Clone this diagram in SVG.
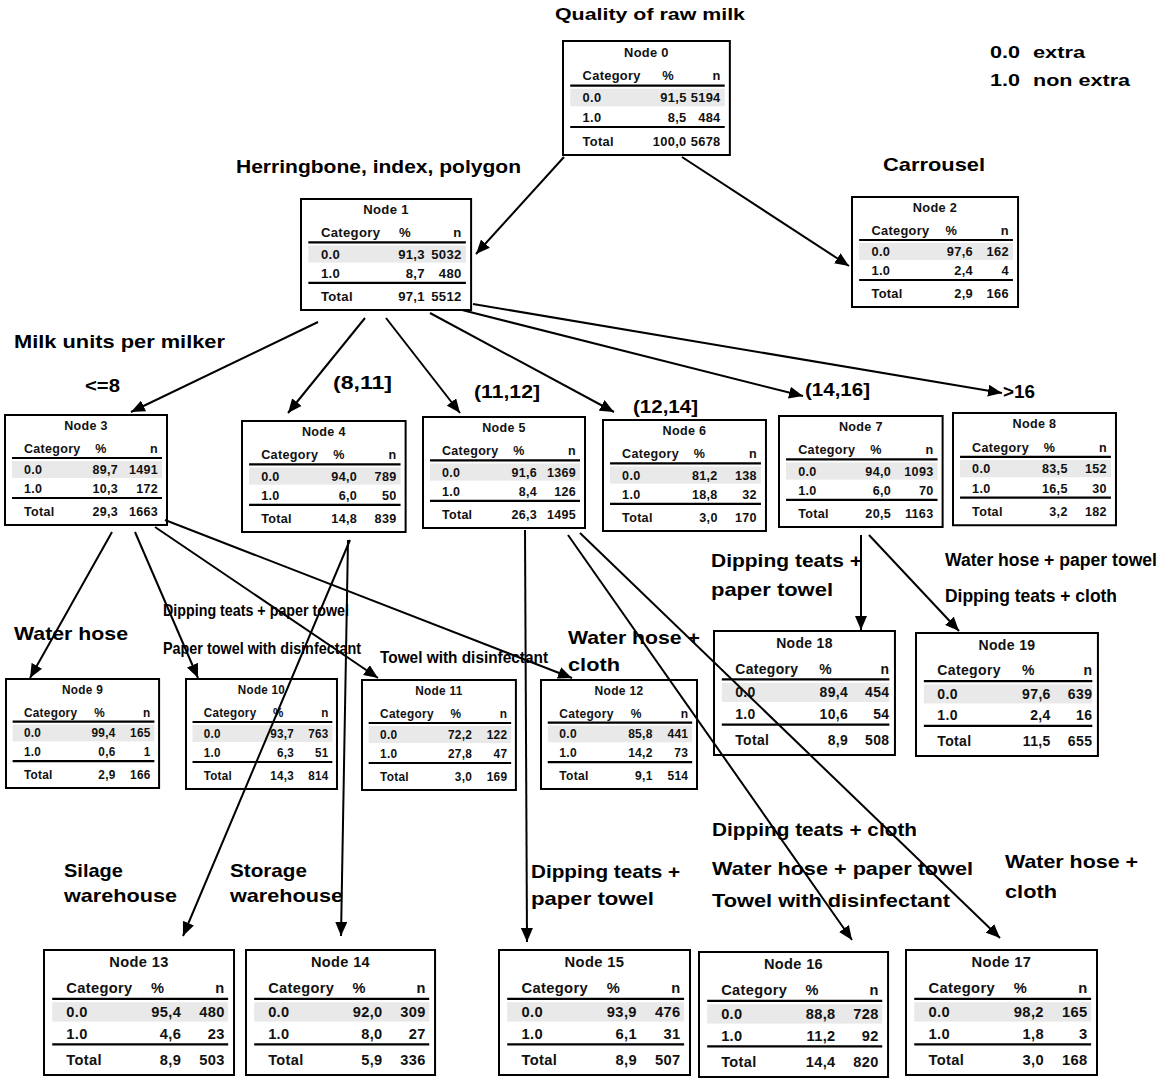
<svg xmlns="http://www.w3.org/2000/svg" xmlns:xlink="http://www.w3.org/1999/xlink" width="1165" height="1081" viewBox="0 0 1165 1081">
<style>
.lbl{font-family:"Liberation Sans",Arial,sans-serif;font-weight:bold;font-size:19px;fill:#000}
.lg{font-family:"Liberation Sans",Arial,sans-serif;font-weight:bold;font-size:16px;fill:#000}
.nt{font-family:"Liberation Sans",Arial,sans-serif;font-weight:bold;font-size:12.5px;fill:#111;letter-spacing:0.3px}
.m{text-anchor:middle}
.e{text-anchor:end}
.bx{fill:#fff;stroke:#000;stroke-width:2}
.rl{stroke:#000;stroke-width:2.2}
.band{fill:#e9e9e9}
.cn line{stroke:#000;stroke-width:2;fill:none;marker-end:url(#ah)}
</style>
<defs>
<marker id="ah" markerUnits="userSpaceOnUse" viewBox="0 0 14 12" refX="14" refY="6" markerWidth="14" markerHeight="12" orient="auto">
<path d="M0,0 L14,6 L0,12 z" fill="#000"/>
</marker>
<g id="frame">
<rect class="bx" x="0" y="0" width="162" height="110" vector-effect="non-scaling-stroke"/>
<rect class="band" x="7" y="46" width="150" height="17"/>
<line class="rl" x1="7" y1="43" x2="157" y2="43" vector-effect="non-scaling-stroke"/>
<line class="rl" x1="7" y1="83" x2="157" y2="83" vector-effect="non-scaling-stroke"/>
</g>
</defs>
<rect width="1165" height="1081" fill="#fff"/>

<g id="labels">
<text class="lbl" x="555" y="20" style="font-size:17px" textLength="190" lengthAdjust="spacingAndGlyphs">Quality of raw milk</text>
<text class="lg" x="990" y="58" textLength="30" lengthAdjust="spacingAndGlyphs">0.0</text>
<text class="lg" x="1033" y="58" textLength="52" lengthAdjust="spacingAndGlyphs">extra</text>
<text class="lg" x="990" y="86" textLength="30" lengthAdjust="spacingAndGlyphs">1.0</text>
<text class="lg" x="1033" y="86" textLength="97" lengthAdjust="spacingAndGlyphs">non extra</text>
<text class="lbl" x="236" y="173" textLength="285" lengthAdjust="spacingAndGlyphs">Herringbone, index, polygon</text>
<text class="lbl" x="883" y="171" textLength="102" lengthAdjust="spacingAndGlyphs">Carrousel</text>
<text class="lbl" x="14" y="348" textLength="211" lengthAdjust="spacingAndGlyphs">Milk units per milker</text>
<text class="lbl" x="85" y="392" textLength="35" lengthAdjust="spacingAndGlyphs">&lt;=8</text>
<text class="lbl" x="333" y="389" textLength="59" lengthAdjust="spacingAndGlyphs">(8,11]</text>
<text class="lbl" x="474" y="398" textLength="66" lengthAdjust="spacingAndGlyphs">(11,12]</text>
<text class="lbl" x="633" y="413" textLength="65" lengthAdjust="spacingAndGlyphs">(12,14]</text>
<text class="lbl" x="805" y="396" textLength="65" lengthAdjust="spacingAndGlyphs">(14,16]</text>
<text class="lbl" x="1003" y="398" textLength="32" lengthAdjust="spacingAndGlyphs">&gt;16</text>
<text class="lbl" x="14" y="640" textLength="114" lengthAdjust="spacingAndGlyphs">Water hose</text>
<text class="lbl" x="163" y="616" style="font-size:17px" textLength="186" lengthAdjust="spacingAndGlyphs">Dipping teats + paper towel</text>
<text class="lbl" x="163" y="654" style="font-size:17px" textLength="198" lengthAdjust="spacingAndGlyphs">Paper towel with disinfectant</text>
<text class="lbl" x="380" y="663" style="font-size:17px" textLength="168" lengthAdjust="spacingAndGlyphs">Towel with disinfectant</text>
<text class="lbl" x="568" y="644" textLength="132" lengthAdjust="spacingAndGlyphs">Water hose +</text>
<text class="lbl" x="568" y="671" textLength="52" lengthAdjust="spacingAndGlyphs">cloth</text>
<text class="lbl" x="711" y="567" textLength="151" lengthAdjust="spacingAndGlyphs">Dipping teats +</text>
<text class="lbl" x="711" y="596" textLength="122" lengthAdjust="spacingAndGlyphs">paper towel</text>
<text class="lbl" x="945" y="566" style="font-size:17.5px" textLength="212" lengthAdjust="spacingAndGlyphs">Water hose + paper towel</text>
<text class="lbl" x="945" y="602" textLength="172" lengthAdjust="spacingAndGlyphs">Dipping teats + cloth</text>
<text class="lbl" x="64" y="877" textLength="59" lengthAdjust="spacingAndGlyphs">Silage</text>
<text class="lbl" x="64" y="902" textLength="113" lengthAdjust="spacingAndGlyphs">warehouse</text>
<text class="lbl" x="230" y="877" textLength="77" lengthAdjust="spacingAndGlyphs">Storage</text>
<text class="lbl" x="230" y="902" textLength="113" lengthAdjust="spacingAndGlyphs">warehouse</text>
<text class="lbl" x="531" y="878" textLength="149" lengthAdjust="spacingAndGlyphs">Dipping teats +</text>
<text class="lbl" x="531" y="905" textLength="123" lengthAdjust="spacingAndGlyphs">paper towel</text>
<text class="lbl" x="712" y="836" textLength="205" lengthAdjust="spacingAndGlyphs">Dipping teats + cloth</text>
<text class="lbl" x="712" y="875" textLength="261" lengthAdjust="spacingAndGlyphs">Water hose + paper towel</text>
<text class="lbl" x="712" y="907" textLength="238" lengthAdjust="spacingAndGlyphs">Towel with disinfectant</text>
<text class="lbl" x="1005" y="868" textLength="133" lengthAdjust="spacingAndGlyphs">Water hose +</text>
<text class="lbl" x="1005" y="898" textLength="52" lengthAdjust="spacingAndGlyphs">cloth</text>
</g>

<g id="node0" transform="translate(563,41) scale(1.03,1.036)">
<use xlink:href="#frame" href="#frame"/>
<text class="nt m" x="81" y="15">Node 0</text>
<text class="nt" x="19" y="38">Category</text><text class="nt m" x="102" y="38">%</text><text class="nt e" x="153" y="38">n</text>
<text class="nt" x="19" y="59">0.0</text><text class="nt e" x="120" y="59">91,5</text><text class="nt e" x="153" y="59">5194</text>
<text class="nt" x="19" y="78">1.0</text><text class="nt e" x="120" y="78">8,5</text><text class="nt e" x="153" y="78">484</text>
<text class="nt" x="19" y="101">Total</text><text class="nt e" x="120" y="101">100,0</text><text class="nt e" x="153" y="101">5678</text>
</g>
<g id="node1" transform="translate(301,199) scale(1.05,1.01)">
<use xlink:href="#frame" href="#frame"/>
<text class="nt m" x="81" y="15">Node 1</text>
<text class="nt" x="19" y="38">Category</text><text class="nt m" x="99" y="38">%</text><text class="nt e" x="153" y="38">n</text>
<text class="nt" x="19" y="59">0.0</text><text class="nt e" x="118" y="59">91,3</text><text class="nt e" x="153" y="59">5032</text>
<text class="nt" x="19" y="78">1.0</text><text class="nt e" x="118" y="78">8,7</text><text class="nt e" x="153" y="78">480</text>
<text class="nt" x="19" y="101">Total</text><text class="nt e" x="118" y="101">97,1</text><text class="nt e" x="153" y="101">5512</text>
</g>
<g id="node2" transform="translate(852,197) scale(1.025,1)">
<use xlink:href="#frame" href="#frame"/>
<text class="nt m" x="81" y="15">Node 2</text>
<text class="nt" x="19" y="38">Category</text><text class="nt m" x="97" y="38">%</text><text class="nt e" x="153" y="38">n</text>
<text class="nt" x="19" y="59">0.0</text><text class="nt e" x="118" y="59">97,6</text><text class="nt e" x="153" y="59">162</text>
<text class="nt" x="19" y="78">1.0</text><text class="nt e" x="118" y="78">2,4</text><text class="nt e" x="153" y="78">4</text>
<text class="nt" x="19" y="101">Total</text><text class="nt e" x="118" y="101">2,9</text><text class="nt e" x="153" y="101">166</text>
</g>
<g id="node3" transform="translate(5,415)">
<use xlink:href="#frame" href="#frame"/>
<text class="nt m" x="81" y="15">Node 3</text>
<text class="nt" x="19" y="38">Category</text><text class="nt m" x="96" y="38">%</text><text class="nt e" x="153" y="38">n</text>
<text class="nt" x="19" y="59">0.0</text><text class="nt e" x="113" y="59">89,7</text><text class="nt e" x="153" y="59">1491</text>
<text class="nt" x="19" y="78">1.0</text><text class="nt e" x="113" y="78">10,3</text><text class="nt e" x="153" y="78">172</text>
<text class="nt" x="19" y="101">Total</text><text class="nt e" x="113" y="101">29,3</text><text class="nt e" x="153" y="101">1663</text>
</g>
<g id="node4" transform="translate(242,421) scale(1.01,1.01)">
<use xlink:href="#frame" href="#frame"/>
<text class="nt m" x="81" y="15">Node 4</text>
<text class="nt" x="19" y="38">Category</text><text class="nt m" x="96" y="38">%</text><text class="nt e" x="153" y="38">n</text>
<text class="nt" x="19" y="59">0.0</text><text class="nt e" x="114" y="59">94,0</text><text class="nt e" x="153" y="59">789</text>
<text class="nt" x="19" y="78">1.0</text><text class="nt e" x="114" y="78">6,0</text><text class="nt e" x="153" y="78">50</text>
<text class="nt" x="19" y="101">Total</text><text class="nt e" x="114" y="101">14,8</text><text class="nt e" x="153" y="101">839</text>
</g>
<g id="node5" transform="translate(423,417) scale(1,1.01)">
<use xlink:href="#frame" href="#frame"/>
<text class="nt m" x="81" y="15">Node 5</text>
<text class="nt" x="19" y="38">Category</text><text class="nt m" x="96" y="38">%</text><text class="nt e" x="153" y="38">n</text>
<text class="nt" x="19" y="59">0.0</text><text class="nt e" x="114" y="59">91,6</text><text class="nt e" x="153" y="59">1369</text>
<text class="nt" x="19" y="78">1.0</text><text class="nt e" x="114" y="78">8,4</text><text class="nt e" x="153" y="78">126</text>
<text class="nt" x="19" y="101">Total</text><text class="nt e" x="114" y="101">26,3</text><text class="nt e" x="153" y="101">1495</text>
</g>
<g id="node6" transform="translate(603,420) scale(1.006,1.01)">
<use xlink:href="#frame" href="#frame"/>
<text class="nt m" x="81" y="15">Node 6</text>
<text class="nt" x="19" y="38">Category</text><text class="nt m" x="96" y="38">%</text><text class="nt e" x="153" y="38">n</text>
<text class="nt" x="19" y="59">0.0</text><text class="nt e" x="114" y="59">81,2</text><text class="nt e" x="153" y="59">138</text>
<text class="nt" x="19" y="78">1.0</text><text class="nt e" x="114" y="78">18,8</text><text class="nt e" x="153" y="78">32</text>
<text class="nt" x="19" y="101">Total</text><text class="nt e" x="114" y="101">3,0</text><text class="nt e" x="153" y="101">170</text>
</g>
<g id="node7" transform="translate(779,416) scale(1.01,1.01)">
<use xlink:href="#frame" href="#frame"/>
<text class="nt m" x="81" y="15">Node 7</text>
<text class="nt" x="19" y="38">Category</text><text class="nt m" x="96" y="38">%</text><text class="nt e" x="153" y="38">n</text>
<text class="nt" x="19" y="59">0.0</text><text class="nt e" x="111" y="59">94,0</text><text class="nt e" x="153" y="59">1093</text>
<text class="nt" x="19" y="78">1.0</text><text class="nt e" x="111" y="78">6,0</text><text class="nt e" x="153" y="78">70</text>
<text class="nt" x="19" y="101">Total</text><text class="nt e" x="111" y="101">20,5</text><text class="nt e" x="153" y="101">1163</text>
</g>
<g id="node8" transform="translate(953,413) scale(1.006,1.02)">
<use xlink:href="#frame" href="#frame"/>
<text class="nt m" x="81" y="15">Node 8</text>
<text class="nt" x="19" y="38">Category</text><text class="nt m" x="96" y="38">%</text><text class="nt e" x="153" y="38">n</text>
<text class="nt" x="19" y="59">0.0</text><text class="nt e" x="114" y="59">83,5</text><text class="nt e" x="153" y="59">152</text>
<text class="nt" x="19" y="78">1.0</text><text class="nt e" x="114" y="78">16,5</text><text class="nt e" x="153" y="78">30</text>
<text class="nt" x="19" y="101">Total</text><text class="nt e" x="114" y="101">3,2</text><text class="nt e" x="153" y="101">182</text>
</g>
<g id="node9" transform="translate(6,679) scale(0.945,0.99)">
<use xlink:href="#frame" href="#frame"/>
<text class="nt m" x="81" y="15">Node 9</text>
<text class="nt" x="19" y="38">Category</text><text class="nt m" x="99" y="38">%</text><text class="nt e" x="153" y="38">n</text>
<text class="nt" x="19" y="59">0.0</text><text class="nt e" x="116" y="59">99,4</text><text class="nt e" x="153" y="59">165</text>
<text class="nt" x="19" y="78">1.0</text><text class="nt e" x="116" y="78">0,6</text><text class="nt e" x="153" y="78">1</text>
<text class="nt" x="19" y="101">Total</text><text class="nt e" x="116" y="101">2,9</text><text class="nt e" x="153" y="101">166</text>
</g>
<g id="node10" transform="translate(186,679) scale(0.932,1)">
<use xlink:href="#frame" href="#frame"/>
<text class="nt m" x="81" y="15">Node 10</text>
<text class="nt" x="19" y="38">Category</text><text class="nt m" x="99" y="38">%</text><text class="nt e" x="153" y="38">n</text>
<text class="nt" x="19" y="59">0.0</text><text class="nt e" x="116" y="59">93,7</text><text class="nt e" x="153" y="59">763</text>
<text class="nt" x="19" y="78">1.0</text><text class="nt e" x="116" y="78">6,3</text><text class="nt e" x="153" y="78">51</text>
<text class="nt" x="19" y="101">Total</text><text class="nt e" x="116" y="101">14,3</text><text class="nt e" x="153" y="101">814</text>
</g>
<g id="node11" transform="translate(362,680) scale(0.95,1)">
<use xlink:href="#frame" href="#frame"/>
<text class="nt m" x="81" y="15">Node 11</text>
<text class="nt" x="19" y="38">Category</text><text class="nt m" x="99" y="38">%</text><text class="nt e" x="153" y="38">n</text>
<text class="nt" x="19" y="59">0.0</text><text class="nt e" x="116" y="59">72,2</text><text class="nt e" x="153" y="59">122</text>
<text class="nt" x="19" y="78">1.0</text><text class="nt e" x="116" y="78">27,8</text><text class="nt e" x="153" y="78">47</text>
<text class="nt" x="19" y="101">Total</text><text class="nt e" x="116" y="101">3,0</text><text class="nt e" x="153" y="101">169</text>
</g>
<g id="node12" transform="translate(541,680) scale(0.963,0.99)">
<use xlink:href="#frame" href="#frame"/>
<text class="nt m" x="81" y="15">Node 12</text>
<text class="nt" x="19" y="38">Category</text><text class="nt m" x="99" y="38">%</text><text class="nt e" x="153" y="38">n</text>
<text class="nt" x="19" y="59">0.0</text><text class="nt e" x="116" y="59">85,8</text><text class="nt e" x="153" y="59">441</text>
<text class="nt" x="19" y="78">1.0</text><text class="nt e" x="116" y="78">14,2</text><text class="nt e" x="153" y="78">73</text>
<text class="nt" x="19" y="101">Total</text><text class="nt e" x="116" y="101">9,1</text><text class="nt e" x="153" y="101">514</text>
</g>
<g id="node18" transform="translate(714,631) scale(1.117,1.127)">
<use xlink:href="#frame" href="#frame"/>
<text class="nt m" x="81" y="15">Node 18</text>
<text class="nt" x="19" y="38">Category</text><text class="nt m" x="100" y="38">%</text><text class="nt e" x="157" y="38">n</text>
<text class="nt" x="19" y="59">0.0</text><text class="nt e" x="120" y="59">89,4</text><text class="nt e" x="157" y="59">454</text>
<text class="nt" x="19" y="78">1.0</text><text class="nt e" x="120" y="78">10,6</text><text class="nt e" x="157" y="78">54</text>
<text class="nt" x="19" y="101">Total</text><text class="nt e" x="120" y="101">8,9</text><text class="nt e" x="157" y="101">508</text>
</g>
<g id="node19" transform="translate(916,633) scale(1.123,1.118)">
<use xlink:href="#frame" href="#frame"/>
<text class="nt m" x="81" y="15">Node 19</text>
<text class="nt" x="19" y="38">Category</text><text class="nt m" x="100" y="38">%</text><text class="nt e" x="157" y="38">n</text>
<text class="nt" x="19" y="59">0.0</text><text class="nt e" x="120" y="59">97,6</text><text class="nt e" x="157" y="59">639</text>
<text class="nt" x="19" y="78">1.0</text><text class="nt e" x="120" y="78">2,4</text><text class="nt e" x="157" y="78">16</text>
<text class="nt" x="19" y="101">Total</text><text class="nt e" x="120" y="101">11,5</text><text class="nt e" x="157" y="101">655</text>
</g>
<g id="node13" transform="translate(44,950) scale(1.173,1.136)">
<use xlink:href="#frame" href="#frame"/>
<text class="nt m" x="81" y="15">Node 13</text>
<text class="nt" x="19" y="38">Category</text><text class="nt m" x="97" y="38">%</text><text class="nt e" x="154" y="38">n</text>
<text class="nt" x="19" y="59">0.0</text><text class="nt e" x="117" y="59">95,4</text><text class="nt e" x="154" y="59">480</text>
<text class="nt" x="19" y="78">1.0</text><text class="nt e" x="117" y="78">4,6</text><text class="nt e" x="154" y="78">23</text>
<text class="nt" x="19" y="101">Total</text><text class="nt e" x="117" y="101">8,9</text><text class="nt e" x="154" y="101">503</text>
</g>
<g id="node14" transform="translate(246,950) scale(1.167,1.136)">
<use xlink:href="#frame" href="#frame"/>
<text class="nt m" x="81" y="15">Node 14</text>
<text class="nt" x="19" y="38">Category</text><text class="nt m" x="97" y="38">%</text><text class="nt e" x="154" y="38">n</text>
<text class="nt" x="19" y="59">0.0</text><text class="nt e" x="117" y="59">92,0</text><text class="nt e" x="154" y="59">309</text>
<text class="nt" x="19" y="78">1.0</text><text class="nt e" x="117" y="78">8,0</text><text class="nt e" x="154" y="78">27</text>
<text class="nt" x="19" y="101">Total</text><text class="nt e" x="117" y="101">5,9</text><text class="nt e" x="154" y="101">336</text>
</g>
<g id="node15" transform="translate(499,950) scale(1.179,1.136)">
<use xlink:href="#frame" href="#frame"/>
<text class="nt m" x="81" y="15">Node 15</text>
<text class="nt" x="19" y="38">Category</text><text class="nt m" x="97" y="38">%</text><text class="nt e" x="154" y="38">n</text>
<text class="nt" x="19" y="59">0.0</text><text class="nt e" x="117" y="59">93,9</text><text class="nt e" x="154" y="59">476</text>
<text class="nt" x="19" y="78">1.0</text><text class="nt e" x="117" y="78">6,1</text><text class="nt e" x="154" y="78">31</text>
<text class="nt" x="19" y="101">Total</text><text class="nt e" x="117" y="101">8,9</text><text class="nt e" x="154" y="101">507</text>
</g>
<g id="node16" transform="translate(699,952) scale(1.167,1.136)">
<use xlink:href="#frame" href="#frame"/>
<text class="nt m" x="81" y="15">Node 16</text>
<text class="nt" x="19" y="38">Category</text><text class="nt m" x="97" y="38">%</text><text class="nt e" x="154" y="38">n</text>
<text class="nt" x="19" y="59">0.0</text><text class="nt e" x="117" y="59">88,8</text><text class="nt e" x="154" y="59">728</text>
<text class="nt" x="19" y="78">1.0</text><text class="nt e" x="117" y="78">11,2</text><text class="nt e" x="154" y="78">92</text>
<text class="nt" x="19" y="101">Total</text><text class="nt e" x="117" y="101">14,4</text><text class="nt e" x="154" y="101">820</text>
</g>
<g id="node17" transform="translate(906,950) scale(1.179,1.136)">
<use xlink:href="#frame" href="#frame"/>
<text class="nt m" x="81" y="15">Node 17</text>
<text class="nt" x="19" y="38">Category</text><text class="nt m" x="97" y="38">%</text><text class="nt e" x="154" y="38">n</text>
<text class="nt" x="19" y="59">0.0</text><text class="nt e" x="117" y="59">98,2</text><text class="nt e" x="154" y="59">165</text>
<text class="nt" x="19" y="78">1.0</text><text class="nt e" x="117" y="78">1,8</text><text class="nt e" x="154" y="78">3</text>
<text class="nt" x="19" y="101">Total</text><text class="nt e" x="117" y="101">3,0</text><text class="nt e" x="154" y="101">168</text>
</g>

<g id="connectors" class="cn">
<line x1="564" y1="157" x2="476" y2="254"/>
<line x1="682" y1="157" x2="849" y2="266"/>
<line x1="318" y1="322" x2="131" y2="412"/>
<line x1="365" y1="318" x2="288" y2="413"/>
<line x1="386" y1="318" x2="460" y2="413"/>
<line x1="430" y1="313" x2="614" y2="412"/>
<line x1="462" y1="310" x2="803" y2="396"/>
<line x1="473" y1="304" x2="1002" y2="393"/>
<line x1="112" y1="532" x2="30" y2="678"/>
<line x1="135" y1="532" x2="198" y2="678"/>
<line x1="155" y1="527" x2="378" y2="678"/>
<line x1="165" y1="520" x2="572" y2="678"/>
<line x1="350" y1="540" x2="183" y2="936"/>
<line x1="348" y1="540" x2="341" y2="936"/>
<line x1="525" y1="530" x2="527" y2="942"/>
<line x1="568" y1="535" x2="852" y2="940"/>
<line x1="580" y1="533" x2="1000" y2="938"/>
<line x1="861" y1="535" x2="861" y2="630"/>
<line x1="869" y1="535" x2="959" y2="631"/>
</g>
</svg>
